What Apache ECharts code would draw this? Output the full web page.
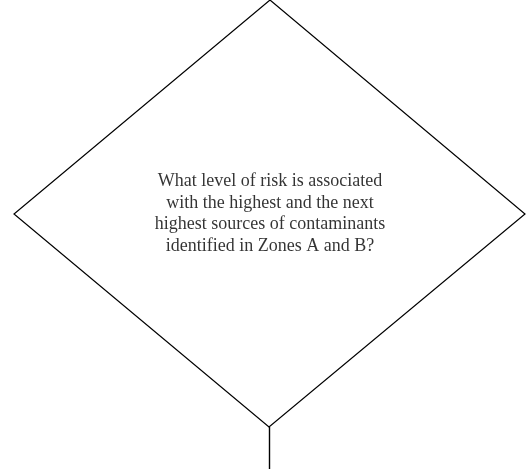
<!DOCTYPE html>
<html>
<head>
<meta charset="utf-8">
<script src="https://cdn.jsdelivr.net/npm/echarts@6/dist/echarts.min.js"></script>
<style>html,body{margin:0;padding:0;background:#fff}#c{width:529px;height:474px}</style>
</head>
<body>
<div id="c"></div>
<script>
// Diagram content
const decisionLines = [
  'What level of risk is associated',
  'with the highest and the next',
  'highest sources of contaminants',
  'identified in Zones A and B?'
];
// Diamond vertices (top, right, bottom, left) in diagram units
const diamondX = [270, 525, 269, 14];
const diamondY = [0, 214, 427, 214];
// Outgoing connector (from, to)
const connectorX = [269, 269];
const connectorY = [427, 469];
// Text anchor
const labelX = [270];
const labelY = [214];

const chart = echarts.init(document.getElementById('c'), null, {renderer: 'canvas'});
chart.setOption({
  animation: false,
  grid: {left: 0, right: 0, top: 0, bottom: 0},
  xAxis: {type: 'value', min: 0, max: 529, show: false},
  yAxis: {type: 'value', min: 0, max: 474, inverse: true, show: false},
  series: [
    {
      type: 'custom',
      coordinateSystem: 'cartesian2d',
      data: [[0]],
      renderItem: function (params, api) {
        const pts = diamondX.map((x, i) => api.coord([x, diamondY[i]]));
        return {
          type: 'polygon',
          shape: {points: pts},
          style: {fill: '#fff', stroke: '#000', lineWidth: 1.2}
        };
      },
      silent: true
    },
    {
      type: 'lines',
      coordinateSystem: 'cartesian2d',
      data: [{coords: [[connectorX[0], connectorY[0]], [connectorX[1], connectorY[1]]]}],
      lineStyle: {color: '#000', width: 1.4, opacity: 1},
      silent: true
    },
    {
      type: 'scatter',
      symbolSize: 0,
      data: [[labelX[0], labelY[0]]],
      label: {
        show: true,
        position: 'inside',
        formatter: decisionLines.join('\n'),
        fontFamily: '"Liberation Serif", "Times New Roman", serif',
        fontSize: 18,
        lineHeight: 21.5,
        color: '#000',
        align: 'center',
        verticalAlign: 'middle'
      },
      silent: true
    }
  ]
});
</script>
</body>
</html>
